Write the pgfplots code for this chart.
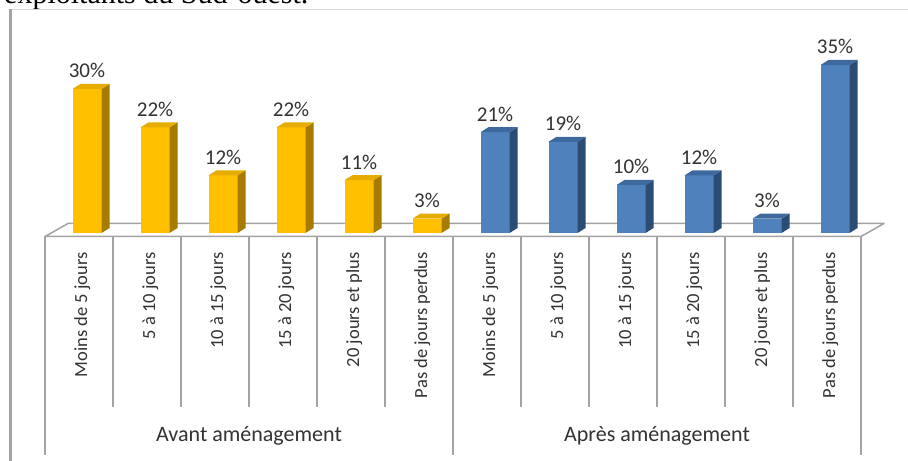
\documentclass[border=0pt]{standalone}
\usepackage{pgfplots}
\pgfplotsset{compat=1.18}
\usepackage{pgfplotstable}
\usepackage{fontspec}
\setmainfont{Carlito}
\newfontfamily\seriffont{Liberation Serif}
\definecolor{goldF}{HTML}{FFC000}
\definecolor{goldS}{HTML}{A67B00}
\definecolor{goldT}{HTML}{E6AC00}
\definecolor{blueF}{HTML}{4F81BD}
\definecolor{blueS}{HTML}{2B4C74}
\definecolor{blueT}{HTML}{3D699E}
\definecolor{lineG}{HTML}{A3A3A3}
\definecolor{txt}{HTML}{333333}

\pgfplotstableread{
x y
0 30
1 22
2 12
3 22
4 11
5 3
}\avant
\pgfplotstableread{
x y
6 21
7 19
8 10
9 12
10 3
11 35
}\apres

\pgfplotsset{
  bar3d/.style n args={3}{
    scatter, only marks, mark=*, mark size=0pt,
    mark options={draw=none,fill=none},
    visualization depends on={rawy \as \rawy},
    scatter/@pre marker code/.code={%
      \pgfmathsetmacro\barh{4.8*\rawy}%
      \pgfmathtruncatemacro\barlab{round(\rawy)}%
      \path[fill=#1, draw=none] (-14.5bp,-\barh bp) rectangle (14.5bp,0bp);
      \path[fill=#2, draw=none] (14.5bp,-\barh bp) -- (22.5bp,-\barh bp+5bp) -- (22.5bp,5bp) -- (14.5bp,0bp) -- cycle;
      \path[fill=#3, draw=none] (-14.5bp,0bp) -- (-6.5bp,5bp) -- (22.5bp,5bp) -- (14.5bp,0bp) -- cycle;
      \node[anchor=base, inner sep=0pt, text=txt, font=\fontsize{21bp}{23bp}\selectfont] at (0bp,11bp) {\barlab\%};
    },
    scatter/@post marker code/.code={},
  }
}

\begin{document}
\begin{tikzpicture}
\useasboundingbox (0,0) rectangle (908bp,461bp);
\clip (0,0) rectangle (908bp,461bp);
\fill[white] (0,0) rectangle (908bp,461bp);
\begin{scope}[yshift=461bp, x=1bp, y=-1bp]
  % caption text cut at the top
  \node[anchor=base west, inner sep=0pt, font=\seriffont\fontsize{30bp}{32bp}\selectfont] at (4,3.5) {exploitants du Sud-ouest.};
  % frame
  \draw[color=black!15, line width=1bp] (11,9.5) -- (908,9.5);
  \draw[color=lineG, line width=2.5bp] (10.5,9) -- (10.5,461);
  % floor
  \draw[color=lineG, line width=1.5bp, line join=round]
     (45,236.5) -- (68,223.5) -- (884,223.5) -- (861,236.5) -- cycle;
  % dividers
  \foreach \k in {1,2,3,4,5,7,8,9,10,11}{
    \draw[color=lineG, line width=1.8bp] ({45+68*\k},236.5) -- ({45+68*\k},407);
  }
  \foreach \k in {0,6,12}{
    \draw[color=lineG, line width=1.8bp] ({45+68*\k},236.5) -- ({45+68*\k},455);
  }
  \node[anchor=base, inner sep=0pt, text=txt, font=\fontsize{22bp}{24bp}\selectfont] at (249,442) {Avant aménagement};
  \node[anchor=base, inner sep=0pt, text=txt, font=\fontsize{22bp}{24bp}\selectfont] at (657,442) {Après aménagement};
\end{scope}

\begin{axis}[
  at={(87bp,228bp)}, anchor=origin,
  x=68bp, y=4.8bp,
  xmin=-0.62, xmax=11.38, ymin=-3.96, ymax=37,
  clip=false,
  axis line style={draw=none},
  tick style={draw=none},
  major tick length=0pt,
  ytick=\empty,
  xtick={-0.07,0.93,1.93,2.93,3.93,4.93,5.93,6.93,7.93,8.93,9.93,10.93},
  xticklabels={Moins de 5 jours,5 à 10 jours,10 à 15 jours,15 à 20 jours,20 jours et plus,Pas de jours perdus,
               Moins de 5 jours,5 à 10 jours,10 à 15 jours,15 à 20 jours,20 jours et plus,Pas de jours perdus},
  xticklabel style={rotate=90, anchor=east, inner sep=0pt, text=txt,
    font=\fontsize{18.5bp}{20bp}\selectfont},
]
\addplot[bar3d={goldF}{goldS}{goldT}] table[x=x,y=y] {\avant};
\addplot[bar3d={blueF}{blueS}{blueT}] table[x=x,y=y] {\apres};
\end{axis}
\end{tikzpicture}
\end{document}
